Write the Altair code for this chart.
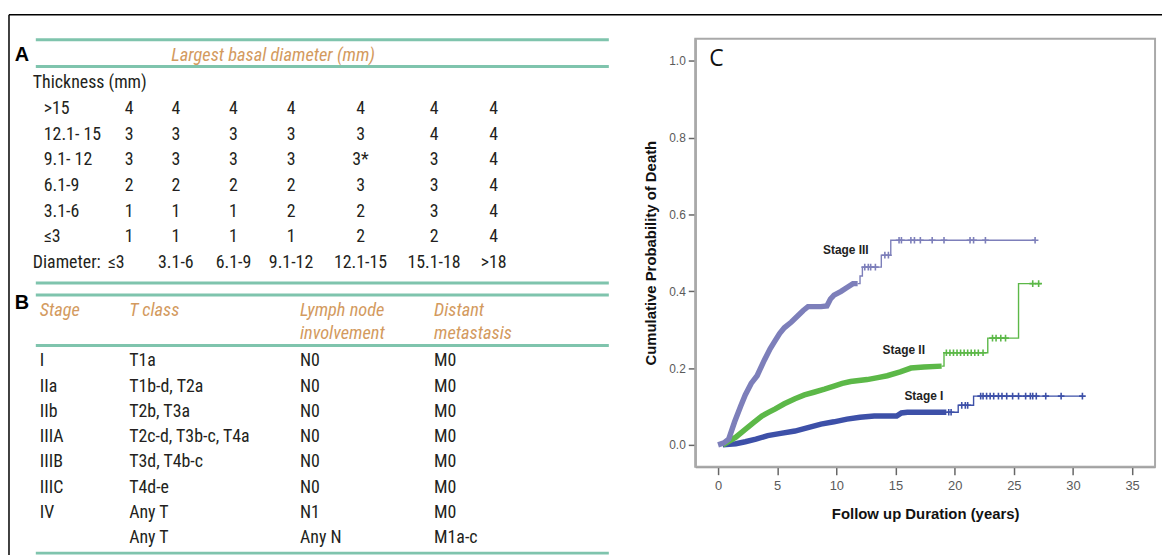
import altair as alt
import pandas as pd

W, H = 1162, 549

# ---------------- Table A ----------------
thickness_rows = [">15", "12.1- 15", "9.1- 12", "6.1-9", "3.1-6", "≤3"]
diameter_cols = ["≤3", "3.1-6", "6.1-9", "9.1-12", "12.1-15", "15.1-18", ">18"]
stage_grid = [
    ["4", "4", "4", "4", "4", "4", "4"],
    ["3", "3", "3", "3", "3", "4", "4"],
    ["3", "3", "3", "3", "3*", "3", "4"],
    ["2", "2", "2", "2", "3", "3", "4"],
    ["1", "1", "1", "2", "2", "3", "4"],
    ["1", "1", "1", "1", "2", "2", "4"],
]
a_title = "Largest basal diameter (mm)"
a_row_header = "Thickness (mm)"
a_col_header = "Diameter:"

# ---------------- Table B ----------------
b_header_line1 = ["Stage", "T class", "Lymph node", "Distant"]
b_header_line2 = ["", "", "involvement", "metastasis"]
b_stage = ["I", "IIa", "IIb", "IIIA", "IIIB", "IIIC", "IV", ""]
b_tclass = ["T1a", "T1b-d, T2a", "T2b, T3a", "T2c-d, T3b-c, T4a", "T3d, T4b-c", "T4d-e", "Any T", "Any T"]
b_lymph = ["N0", "N0", "N0", "N0", "N0", "N0", "N1", "Any N"]
b_distant = ["M0", "M0", "M0", "M0", "M0", "M0", "M0", "M1a-c"]

# ---------------- Chart C ----------------
stage_names = ["Stage I", "Stage II", "Stage III"]
stage_colors = ["#3d50a8", "#5cb848", "#7d7fba"]

stage1_curve_t = [0.4, 1.5, 2.3, 3.2, 4.2, 5.3, 6.5, 7.6, 8.7, 9.8, 10.9, 12.0, 13.2, 15.1, 15.5, 16.0, 19.3]
stage1_curve_p = [0.0, 0.003, 0.008, 0.015, 0.024, 0.030, 0.036, 0.045, 0.054, 0.060, 0.067, 0.072, 0.075, 0.075, 0.083, 0.085, 0.085]
stage1_step_t = [19.3, 20.3, 21.6, 30.8]
stage1_step_p = [0.085, 0.103, 0.127, 0.127]
stage1_censor_t = [19.5, 19.7, 20.6, 20.9, 21.1, 22.2, 22.4, 22.7, 23.0, 23.3, 23.7, 24.0, 24.4,
                   24.9, 25.4, 26.0, 26.4, 26.6, 26.9, 27.7, 29.0, 30.8]

stage2_curve_t = [0.4, 1.5, 2.3, 3.0, 3.7, 4.3, 4.8, 5.6, 6.5, 7.3, 8.1, 9.0, 9.8, 10.5, 11.2, 12.6,
                  13.5, 14.3, 15.4, 16.3, 17.4, 18.9]
stage2_curve_p = [0.0, 0.020, 0.040, 0.058, 0.075, 0.085, 0.093, 0.107, 0.120, 0.130, 0.137, 0.145,
                  0.153, 0.160, 0.165, 0.170, 0.175, 0.180, 0.190, 0.200, 0.203, 0.205]
stage2_step_t = [18.9, 19.1, 22.8, 25.4, 27.3]
stage2_step_p = [0.205, 0.240, 0.278, 0.420, 0.420]
stage2_censor_t = [19.3, 19.6, 19.9, 20.2, 20.5, 20.8, 21.1, 21.4, 21.7, 22.0, 22.4, 23.2, 23.5,
                   23.9, 24.3, 26.6, 27.1]

stage3_curve_t = [0.0, 0.5, 0.9, 1.4, 1.9, 2.3, 2.8, 3.3, 3.9, 4.4, 4.8, 5.2, 5.6, 6.2, 6.7, 7.2,
                  7.6, 8.2, 8.7, 9.2, 9.5, 9.8, 10.4, 10.9, 11.4, 11.8]
stage3_curve_p = [0.0, 0.005, 0.015, 0.060, 0.100, 0.130, 0.160, 0.180, 0.220, 0.250, 0.270, 0.290,
                  0.305, 0.320, 0.335, 0.350, 0.360, 0.360, 0.360, 0.362, 0.380, 0.390, 0.400,
                  0.410, 0.420, 0.420]
stage3_step_t = [11.8, 12.0, 12.2, 13.8, 14.6, 26.8]
stage3_step_p = [0.420, 0.440, 0.463, 0.494, 0.533, 0.533]
stage3_censor_t = [12.4, 12.7, 12.9, 13.3, 14.1, 14.4, 15.3, 15.5, 16.3, 16.6, 17.1, 18.1, 19.1,
                   21.3, 21.6, 22.6, 26.8]

label_text = ["Stage III", "Stage II", "Stage I"]
label_t = [10.8, 15.7, 17.4]
label_p = [0.507, 0.248, 0.127]

x_ticks = [0, 5, 10, 15, 20, 25, 30, 35]
y_ticks = [0.0, 0.2, 0.4, 0.6, 0.8, 1.0]

# ---------------- build tables ----------------
TFONT = "Liberation Sans Narrow, Roboto Condensed, Roboto, sans-serif"
TCOLOR = "#231f20"
ORANGE = "#d39a5e"
TEAL = "#7fc4ad"

a_cells = pd.DataFrame([
    {"row": th, "col": c, "val": stage_grid[r][c]}
    for r, th in enumerate(thickness_rows) for c in range(len(diameter_cols))
])
a_rowlab = pd.DataFrame({"row": thickness_rows})
a_heads = pd.DataFrame({"row": [a_row_header, a_col_header]})
a_diam = pd.DataFrame({"row": [a_col_header] * len(diameter_cols),
                       "col": list(range(len(diameter_cols))), "val": diameter_cols})

a_y = alt.Scale(type="point", domain=[a_row_header] + thickness_rows + [a_col_header],
                range=[74, 255], padding=0)
a_x_vals = alt.Scale(domain=list(range(7)), range=[122, 169, 227, 285, 355, 429, 489],
                     nice=False, zero=False)
a_x_diam = alt.Scale(domain=list(range(7)), range=[109, 169, 227, 285, 355, 429, 489],
                     nice=False, zero=False)

txt = dict(font=TFONT, fontSize=18, color=TCOLOR, baseline="middle")

layer_a_vals = alt.Chart(a_cells).mark_text(align="center", **txt).encode(
    x=alt.X("col:Q", scale=a_x_vals, axis=None),
    y=alt.Y("row:N", scale=a_y, axis=None),
    text="val:N")
layer_a_diam = alt.Chart(a_diam).mark_text(align="center", **txt).encode(
    x=alt.X("col:Q", scale=a_x_diam, axis=None),
    y=alt.Y("row:N", scale=a_y, axis=None),
    text="val:N")
layer_a_rowlab = alt.Chart(a_rowlab).mark_text(align="left", **txt).encode(
    x=alt.value(36),
    y=alt.Y("row:N", scale=a_y, axis=None),
    text="row:N")
layer_a_heads = alt.Chart(a_heads).mark_text(align="left", **txt).encode(
    x=alt.value(25),
    y=alt.Y("row:N", scale=a_y, axis=None),
    text="row:N")
layer_a_title = alt.Chart(pd.DataFrame({"t": [a_title]})).mark_text(
    align="center", baseline="middle", font=TFONT, fontSize=18.5, fontStyle="italic",
    color=ORANGE).encode(x=alt.value(267), y=alt.value(45), text="t:N")

b_rows = pd.DataFrame([
    {"r": i, "c": c, "val": v}
    for i in range(len(b_stage))
    for c, v in enumerate([b_stage[i], b_tclass[i], b_lymph[i], b_distant[i]])
])
b_head = pd.DataFrame(
    [{"r": "l1", "c": c, "val": v} for c, v in enumerate(b_header_line1)] +
    [{"r": "l2", "c": c, "val": v} for c, v in enumerate(b_header_line2)]
)
b_x = alt.Scale(domain=[0, 1, 2, 3], range=[32, 122, 294, 429], nice=False, zero=False)
b_y = alt.Scale(type="point", domain=list(range(len(b_stage))), range=[354, 532], padding=0)
b_yh = alt.Scale(type="point", domain=["l1", "l2"], range=[302, 325], padding=0)

layer_b_rows = alt.Chart(b_rows).mark_text(align="left", **txt).encode(
    x=alt.X("c:Q", scale=b_x, axis=None),
    y=alt.Y("r:O", scale=b_y, axis=None),
    text="val:N")
layer_b_head = alt.Chart(b_head).mark_text(
    align="left", baseline="middle", font=TFONT, fontSize=18.5, fontStyle="italic",
    color=ORANGE).encode(
    x=alt.X("c:Q", scale=b_x, axis=None),
    y=alt.Y("r:N", scale=b_yh, axis=None),
    text="val:N")

rule_layers = []
for yy in [30, 57, 275, 287, 338, 547]:
    rule_layers.append(alt.Chart(pd.DataFrame({"k": [0]})).mark_rule(
        color=TEAL, strokeWidth=3).encode(
        x=alt.value(28), x2=alt.value(605), y=alt.value(yy)))

border_top = alt.Chart(pd.DataFrame({"k": [0]})).mark_rule(color="#000", strokeWidth=1.5).encode(
    x=alt.value(1), x2=alt.value(W), y=alt.value(5))
border_left = alt.Chart(pd.DataFrame({"k": [0]})).mark_rule(color="#000", strokeWidth=1.5).encode(
    x=alt.value(1), y=alt.value(5), y2=alt.value(H))

panel_letters = alt.Chart(pd.DataFrame({"t": ["A", "B"], "k": ["a", "b"]})).mark_text(
    align="center", baseline="middle", font="Liberation Sans, Arial, sans-serif",
    fontSize=20, fontWeight="bold", color="#000").encode(
    x=alt.value(14),
    y=alt.Y("k:N", scale=alt.Scale(type="point", domain=["a", "b"], range=[45, 295], padding=0),
            axis=None),
    text="t:N")

# ---------------- build KM chart ----------------
def step_value(ts, ps, t):
    v = ps[0]
    for ti, pi in zip(ts, ps):
        if ti <= t:
            v = pi
    return v

curves = {
    "Stage I": (stage1_curve_t, stage1_curve_p, stage1_step_t, stage1_step_p, stage1_censor_t),
    "Stage II": (stage2_curve_t, stage2_curve_p, stage2_step_t, stage2_step_p, stage2_censor_t),
    "Stage III": (stage3_curve_t, stage3_curve_p, stage3_step_t, stage3_step_p, stage3_censor_t),
}
dense_rows, step_rows, cens_rows = [], [], []
for name, (ct, cp, st, sp, cen) in curves.items():
    dense_rows += [{"stage": name, "t": a, "p": b} for a, b in zip(ct, cp)]
    step_rows += [{"stage": name, "t": a, "p": b} for a, b in zip(st, sp)]
    cens_rows += [{"stage": name, "t": a, "p": step_value(st, sp, a)} for a in cen]
dense_df = pd.DataFrame(dense_rows)
step_df = pd.DataFrame(step_rows)
cens_df = pd.DataFrame(cens_rows)
lab_df = pd.DataFrame({"label": label_text, "t": label_t, "p": label_p})

cx = alt.Scale(domain=[-1.93, 36.94], range=[692, 1155], nice=False, zero=False)
cy = alt.Scale(domain=[-0.057, 1.058], range=[460, 29], nice=False, zero=False)
color = alt.Color("stage:N", scale=alt.Scale(domain=stage_names, range=stage_colors), legend=None)

AX_FONT = "Liberation Sans, Arial, sans-serif"
x_axis = alt.Axis(orient="bottom", offset=-(H - 460), values=x_ticks, format="d",
                  title="Follow up Duration (years)", titleFont=AX_FONT, titleFontSize=15,
                  titleFontWeight="bold", titleColor="#111", titlePadding=14,
                  labelFont=AX_FONT, labelFontSize=13, labelColor="#5a5a5a", labelPadding=5,
                  tickSize=8, tickColor="#666", tickWidth=1.5, domainColor="#8f8f8f",
                  domainWidth=2, grid=False)
y_axis = alt.Axis(orient="left", offset=-692, values=y_ticks, format=".1f",
                  title="Cumulative Probability of Death", titleFont=AX_FONT, titleFontSize=15,
                  titleFontWeight="bold", titleColor="#111", titlePadding=10,
                  labelFont=AX_FONT, labelFontSize=12, labelColor="#5a5a5a", labelPadding=3,
                  tickSize=7, tickColor="#666", tickWidth=1.5, domainColor="#8f8f8f",
                  domainWidth=2, grid=False)

frame = alt.Chart(pd.DataFrame({"k": [0]})).mark_rect(
    fill=None, stroke="#a9a9a9", strokeWidth=2).encode(
    x=alt.value(692), x2=alt.value(1155), y=alt.value(29), y2=alt.value(460))

dense = alt.Chart(dense_df).mark_line(strokeWidth=5.5, interpolate="linear").encode(
    x=alt.X("t:Q", scale=cx, axis=x_axis),
    y=alt.Y("p:Q", scale=cy, axis=y_axis),
    color=color, detail="stage:N")
steps = alt.Chart(step_df).mark_line(strokeWidth=1.4, interpolate="step-after").encode(
    x=alt.X("t:Q", scale=cx, axis=None),
    y=alt.Y("p:Q", scale=cy, axis=None),
    color=color, detail="stage:N")
cens = alt.Chart(cens_df).mark_point(
    shape="M0,-1V1M-1,0H1", filled=False, size=45, strokeWidth=1.6, opacity=1).encode(
    x=alt.X("t:Q", scale=cx, axis=None),
    y=alt.Y("p:Q", scale=cy, axis=None),
    color=color)
labels = alt.Chart(lab_df).mark_text(
    align="center", baseline="middle", font=AX_FONT, fontSize=12, fontWeight="bold",
    color="#222").encode(
    x=alt.X("t:Q", scale=cx, axis=None),
    y=alt.Y("p:Q", scale=cy, axis=None),
    text="label:N")
c_letter = alt.Chart(pd.DataFrame({"t": ["C"]})).mark_text(
    align="left", baseline="middle", font="Open Sans, Liberation Sans, sans-serif",
    fontSize=23, color="#111").encode(x=alt.value(706), y=alt.value(50), text="t:N")

chart = alt.layer(
    border_top, border_left, *rule_layers,
    layer_a_title, layer_a_heads, layer_a_rowlab, layer_a_vals, layer_a_diam,
    layer_b_head, layer_b_rows, panel_letters,
    frame, dense, steps, cens, labels, c_letter,
).resolve_scale(x="independent", y="independent").properties(
    width=W, height=H, padding=0, autosize=alt.AutoSizeParams(type="none"),
    background="white",
).configure_view(stroke=None)

chart.save("out.html", embed_options={"renderer": "svg", "actions": False})
